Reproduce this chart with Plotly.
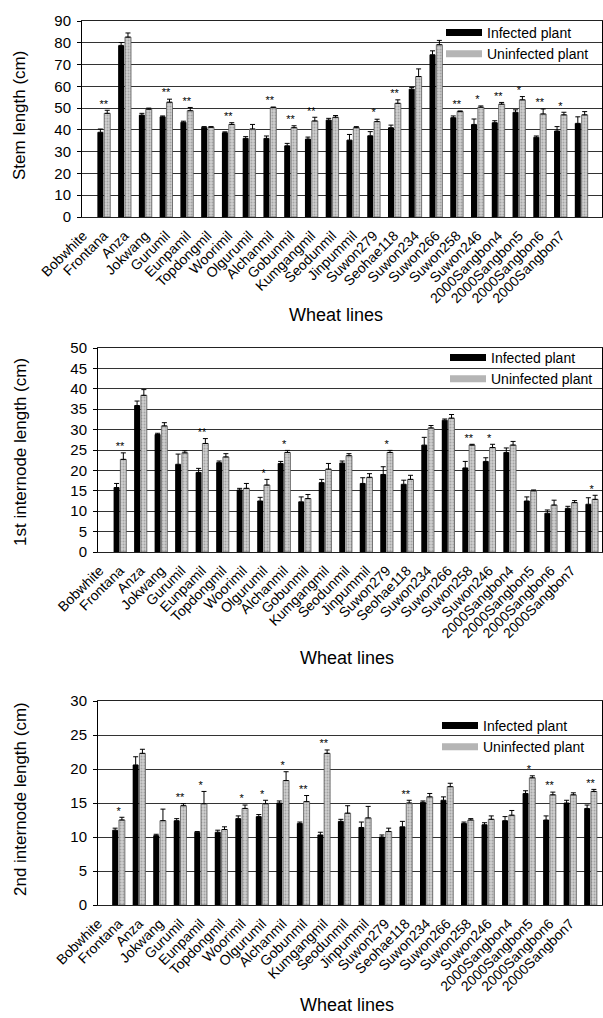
import plotly.graph_objects as go

categories = ["Bobwhite", "Frontana", "Anza", "Jokwang", "Gurumil", "Eunpamil",
              "Topdongmil", "Woorimil", "Olgurumil", "Alchanmil", "Gobunmil",
              "Kumgangmil", "Seodunmil", "Jinpummil", "Suwon279", "Seohae118",
              "Suwon234", "Suwon266", "Suwon258", "Suwon246", "2000Sangbon4",
              "2000Sangbon5", "2000Sangbon6", "2000Sangbon7"]

# Panel 1: stem length
stem_inf = [38.9, 78.8, 46.8, 46.0, 43.5, 41.2, 38.7, 36.1, 36.1, 32.7, 35.8, 44.5,
            35.3, 37.3, 41.0, 58.7, 74.5, 45.6, 42.5, 43.3, 48.1, 36.6, 39.5, 43.0]
stem_inf_err = [1.5, 1.3, 0.8, 0.4, 0.5, 0.3, 0.4, 0.8, 1.1, 1.1, 0.9, 0.8,
                2.6, 1.9, 1.2, 0.8, 1.8, 0.8, 2.5, 0.9, 1.1, 0.6, 2.0, 3.0]
stem_uninf = [47.6, 82.6, 49.5, 52.7, 48.8, 41.2, 42.5, 40.4, 50.2, 41.0, 44.1, 45.8,
              41.0, 43.8, 52.2, 64.5, 79.1, 48.4, 50.4, 51.8, 53.8, 47.3, 46.9, 46.9]
stem_uninf_err = [1.4, 1.9, 0.5, 1.4, 1.5, 0.3, 0.8, 2.1, 0.3, 0.9, 1.7, 0.8,
                  0.5, 1.1, 1.6, 3.5, 2.0, 0.3, 0.6, 0.8, 1.5, 2.3, 1.2, 1.5]
stem_sig = ["**", "", "", "**", "**", "", "**", "", "**", "**", "**", "",
            "", "*", "**", "", "", "**", "*", "**", "*", "**", "*", ""]

# Panel 2: 1st internode length
int1_inf = [15.8, 35.9, 28.8, 21.5, 19.5, 21.9, 15.2, 12.5, 21.7, 12.3, 17.0, 21.8,
            16.8, 19.0, 16.6, 26.2, 32.3, 20.6, 22.2, 24.4, 12.5, 9.5, 10.7, 11.7]
int1_inf_err = [1.0, 1.1, 0.3, 2.5, 1.0, 0.4, 0.4, 0.9, 0.5, 1.2, 0.8, 0.5,
                1.4, 1.9, 1.0, 1.9, 0.3, 1.6, 0.9, 1.1, 1.0, 0.8, 0.5, 1.6]
int1_uninf = [22.7, 38.4, 30.9, 24.3, 26.6, 23.3, 15.6, 16.4, 24.4, 13.1, 20.3, 23.6,
              18.3, 24.4, 17.8, 30.4, 32.8, 26.2, 25.6, 26.2, 15.0, 11.5, 12.1, 12.9]
int1_uninf_err = [1.6, 1.4, 0.8, 0.5, 1.2, 0.8, 1.2, 1.4, 0.5, 1.0, 1.4, 0.5,
                  0.9, 0.5, 1.0, 0.6, 0.9, 0.2, 0.8, 0.9, 0.2, 1.2, 0.5, 1.0]
int1_sig = ["**", "", "", "", "**", "", "", "*", "*", "", "", "",
            "", "*", "", "", "", "**", "*", "", "", "", "", "*"]

# Panel 3: 2nd internode length
int2_inf = [11.0, 20.6, 10.2, 12.4, 10.7, 10.7, 12.7, 13.0, 15.0, 12.0, 10.3, 12.3,
            11.4, 10.0, 11.5, 15.1, 15.4, 12.0, 11.8, 12.4, 16.4, 12.5, 15.0, 14.2]
int2_inf_err = [0.3, 1.2, 0.2, 0.3, 0.1, 0.3, 0.4, 0.3, 0.3, 0.2, 0.4, 0.3,
                0.8, 0.3, 0.8, 0.2, 0.5, 0.2, 0.3, 0.6, 0.4, 0.6, 0.4, 0.5]
int2_uninf = [12.5, 22.3, 12.4, 14.6, 14.9, 11.1, 14.2, 14.9, 18.3, 15.2, 22.3, 13.5,
              12.8, 10.8, 15.0, 15.9, 17.4, 12.5, 12.6, 13.2, 18.7, 16.2, 16.2, 16.7]
int2_uninf_err = [0.4, 0.6, 1.7, 0.3, 1.8, 0.4, 0.5, 0.5, 1.3, 0.9, 0.5, 1.1,
                  1.7, 0.5, 0.4, 0.5, 0.5, 0.2, 0.5, 0.7, 0.3, 0.4, 0.3, 0.3]
int2_sig = ["*", "", "", "**", "*", "", "*", "*", "*", "**", "**", "",
            "", "", "**", "", "", "", "", "", "*", "**", "", "**"]

y_titles = ["Stem length (cm)", "1st internode length (cm)", "2nd internode length (cm)"]
x_title = "Wheat lines"
legend_names = ["Infected plant", "Uninfected plant"]

FONT = "Liberation Sans, Arial, sans-serif"
W, H = 603, 1018
idx = list(range(len(categories)))
label_pos = [i - 1 for i in idx]  # labels sit one slot left of their bars, as in the source

panels = [
    dict(inf=stem_inf, inf_err=stem_inf_err, un=stem_uninf, un_err=stem_uninf_err, sig=stem_sig,
         ymax=90, dtick=10, px=(82, 602), py=(21, 217), xr=[-1.05, 24.0],
         leg=(441, 17), xt=(336, 315), yt=(20, 116)),
    dict(inf=int1_inf, inf_err=int1_inf_err, un=int1_uninf, un_err=int1_uninf_err, sig=int1_sig,
         ymax=50, dtick=5, px=(98, 602), py=(348, 552), xr=[-1.07, 23.5],
         leg=(445, 342), xt=(347, 658), yt=(20, 452)),
    dict(inf=int2_inf, inf_err=int2_inf_err, un=int2_uninf, un_err=int2_uninf_err, sig=int2_sig,
         ymax=30, dtick=5, px=(98, 602), py=(701, 905), xr=[-1.0, 23.56],
         leg=(437, 710), xt=(347, 1005), yt=(20, 799)),
]

fig = go.Figure()
annotations = []
layout = {}
for k, p in enumerate(panels):
    n = "" if k == 0 else str(k + 1)
    xa, ya = "x" + n, "y" + n
    lg = "legend" + n
    fig.add_trace(go.Bar(
        x=idx, y=p["inf"], xaxis=xa, yaxis=ya, showlegend=False,
        marker=dict(color="black", line=dict(width=0)),
        error_y=dict(type="data", symmetric=False, array=p["inf_err"],
                     arrayminus=[0] * len(idx), color="black", thickness=1, width=2.5)))
    fig.add_trace(go.Bar(
        x=idx, y=p["un"], xaxis=xa, yaxis=ya, showlegend=False,
        marker=dict(color="#cfcfcf", line=dict(color="#555", width=0.8),
                    pattern=dict(shape=".", fgcolor="#7a7a7a", size=3, solidity=0.35)),
        error_y=dict(type="data", symmetric=False, array=p["un_err"],
                     arrayminus=[0] * len(idx), color="black", thickness=1, width=2.5)))
    tops = [u + e for u, e in zip(p["un"], p["un_err"])]
    fig.add_trace(go.Scatter(
        x=idx, y=tops, text=p["sig"], mode="text", textposition="top center",
        textfont=dict(size=11, color="black", family=FONT),
        xaxis=xa, yaxis=ya, showlegend=False, hoverinfo="skip"))
    # legend proxies
    fig.add_trace(go.Scatter(x=[None], y=[None], mode="lines", name=legend_names[0],
                             line=dict(color="black", width=7), xaxis=xa, yaxis=ya, legend=lg))
    fig.add_trace(go.Scatter(x=[None], y=[None], mode="lines", name=legend_names[1],
                             line=dict(color="#b5b5b5", width=7), xaxis=xa, yaxis=ya, legend=lg))

    layout["xaxis" + n] = dict(
        domain=[p["px"][0] / W, p["px"][1] / W], anchor=ya, range=p["xr"],
        tickmode="array", tickvals=label_pos, ticktext=categories, tickangle=-45,
        tickfont=dict(size=14, color="black", family=FONT), ticks="",
        showgrid=False, zeroline=False, showline=True, linecolor="#222",
        linewidth=1, mirror=True, ticklabelstandoff=4, automargin=False)
    layout["yaxis" + n] = dict(
        domain=[1 - p["py"][1] / H, 1 - p["py"][0] / H], anchor=xa,
        range=[0, p["ymax"]], dtick=p["dtick"], tick0=0,
        tickfont=dict(size=15, color="black", family=FONT),
        ticks="outside", ticklen=4, tickcolor="black",
        showgrid=True, gridcolor="#333", gridwidth=1, zeroline=False,
        showline=True, linecolor="black", linewidth=1, mirror=True,
        ticklabelstandoff=3, automargin=False)
    layout[lg] = dict(
        x=p["leg"][0] / W, y=1 - p["leg"][1] / H, xanchor="left", yanchor="top",
        bgcolor="rgba(0,0,0,0)", borderwidth=0, tracegroupgap=0, itemwidth=36,
        font=dict(size=14, color="black", family=FONT), itemclick=False)
    annotations.append(dict(text=x_title, x=p["xt"][0] / W, y=1 - p["xt"][1] / H,
                            xref="paper", yref="paper", showarrow=False,
                            xanchor="center", yanchor="middle",
                            font=dict(size=18, color="black", family=FONT)))
    annotations.append(dict(text=y_titles[k], x=p["yt"][0] / W, y=1 - p["yt"][1] / H,
                            xref="paper", yref="paper", showarrow=False, textangle=-90,
                            xanchor="center", yanchor="middle",
                            font=dict(size=17, color="black", family=FONT)))

fig.update_layout(
    width=W, height=H, margin=dict(l=0, r=0, t=0, b=0, autoexpand=False),
    paper_bgcolor="white", plot_bgcolor="white",
    barmode="group", bargap=0.34, bargroupgap=0.12,
    font=dict(family=FONT, color="black"),
    annotations=annotations, **layout)

fig.write_html("out.html")
